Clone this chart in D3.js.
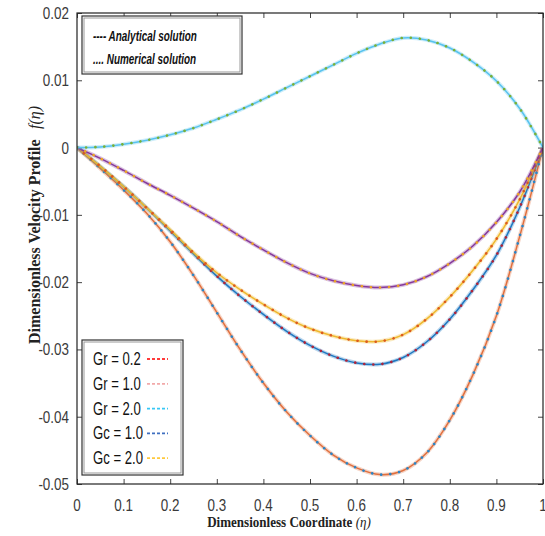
<!DOCTYPE html>
<html>
<head>
<meta charset="utf-8">
<script src="https://cdn.jsdelivr.net/npm/d3@7"></script>
<style>
  body { margin: 0; background: #fff; }
  svg { display: block; }
  .sans { font-family: "Liberation Sans", Arial, sans-serif; }
  .ttl { font-family: "Liberation Serif", "Times New Roman", serif; font-weight: bold; fill: #222; }
</style>
</head>
<body>
<svg id="chart" width="545" height="536"></svg>
<script>
// eta grid
var eta = [0, 0.05, 0.1, 0.15, 0.2, 0.25, 0.3, 0.35, 0.4, 0.45, 0.5, 0.55, 0.6, 0.65, 0.7, 0.75, 0.8, 0.85, 0.9, 0.95, 1];

// velocity profiles f(eta)
var curveCyan   = [0, 0.0001, 0.0005, 0.0011, 0.0019, 0.0029, 0.0042, 0.0056, 0.0072, 0.0089, 0.0106, 0.0123, 0.0140, 0.0154, 0.0163, 0.0160, 0.0148, 0.0127, 0.0099, 0.0058, 0];
var curvePurple = [0, -0.0016, -0.0034, -0.0053, -0.0071, -0.0090, -0.0110, -0.0132, -0.0152, -0.0171, -0.0187, -0.0198, -0.0205, -0.0208, -0.0204, -0.0192, -0.0172, -0.0146, -0.0111, -0.0066, 0];
var curveYellow = [0, -0.0028, -0.0058, -0.0090, -0.0122, -0.0156, -0.0186, -0.0211, -0.0233, -0.0253, -0.0269, -0.0280, -0.0287, -0.0288, -0.0278, -0.0255, -0.0222, -0.0182, -0.0136, -0.0077, 0];
var curveBlue   = [0, -0.0028, -0.0058, -0.0090, -0.0124, -0.0158, -0.0191, -0.0221, -0.0248, -0.0273, -0.0294, -0.0310, -0.0320, -0.0322, -0.0312, -0.0289, -0.0255, -0.0211, -0.0160, -0.0089, 0];
var curveOrange = [0, -0.0031, -0.0063, -0.0098, -0.0140, -0.0190, -0.0245, -0.0300, -0.0350, -0.0393, -0.0428, -0.0457, -0.0476, -0.0486, -0.0480, -0.0454, -0.0405, -0.0337, -0.0250, -0.0132, 0];

var xTicks = [0, 0.1, 0.2, 0.3, 0.4, 0.5, 0.6, 0.7, 0.8, 0.9, 1];
var yTicks = [0.02, 0.01, 0, -0.01, -0.02, -0.03, -0.04, -0.05];

var legendLabels = ["Gr = 0.2", "Gr = 1.0", "Gr = 2.0", "Gc = 1.0", "Gc = 2.0"];
var legendColors = ["#ff3b3b", "#f2a9a9", "#38c8f5", "#3f6fc0", "#ffc93c"];

var solutionLabels = ["---- Analytical solution", ".... Numerical solution"];

var svg = d3.select("#chart");
var plotLeft = 77, plotRight = 543, plotTop = 13, plotBottom = 484;

var x = d3.scaleLinear().domain([0, 1]).range([plotLeft, plotRight]);
var y = d3.scaleLinear().domain([-0.05, 0.02]).range([plotBottom, plotTop]);

// condensed looking text: squeeze a normal font horizontally
function narrowText(parent, px, py, anchor, str, size, sx) {
  return parent.append("text")
    .attr("class", "sans")
    .attr("transform", "translate(" + px + "," + py + ") scale(" + sx + ",1)")
    .attr("text-anchor", anchor)
    .attr("font-size", size)
    .text(str);
}

// ticks all round, pointing inward
svg.append("g").attr("transform", "translate(0," + plotBottom + ")")
  .call(d3.axisBottom(x).tickValues(xTicks).tickSizeInner(-5).tickSizeOuter(0).tickFormat(""));
svg.append("g").attr("transform", "translate(0," + plotTop + ")")
  .call(d3.axisTop(x).tickValues(xTicks).tickSizeInner(-5).tickSizeOuter(0).tickFormat(""));
svg.append("g").attr("transform", "translate(" + plotLeft + ",0)")
  .call(d3.axisLeft(y).tickValues(yTicks).tickSizeInner(-5).tickSizeOuter(0).tickFormat(""));
svg.append("g").attr("transform", "translate(" + plotRight + ",0)")
  .call(d3.axisRight(y).tickValues(yTicks).tickSizeInner(-5).tickSizeOuter(0).tickFormat(""));
svg.selectAll(".domain").remove();
svg.selectAll(".tick line").attr("stroke", "#444");

// tick labels (plain hyphen minus like the original)
function fmt(d) { return String(d); }
xTicks.forEach(function (d) {
  narrowText(svg, x(d), 511, "middle", fmt(d), 16, 0.84).attr("fill", "#3a3a3a");
});
yTicks.forEach(function (d) {
  narrowText(svg, 69, y(d) + 6, "end", fmt(d), 16, 0.84).attr("fill", "#3a3a3a");
});

// axis titles
var xt = svg.append("text").attr("class", "ttl")
  .attr("font-size", 14.5)
  .attr("transform", "translate(289,527) scale(0.9,1)")
  .attr("text-anchor", "middle");
xt.append("tspan").text("Dimensionless Coordinate ");
xt.append("tspan").attr("font-weight", "normal").attr("font-style", "italic").text("(η)");

var yt = svg.append("text").attr("class", "ttl")
  .attr("font-size", 17)
  .attr("transform", "translate(40,225) rotate(-90) scale(0.94,1)")
  .attr("text-anchor", "middle");
yt.append("tspan").text("Dimensionless Velocity Profile");
yt.append("tspan").attr("dx", 11).attr("font-weight", "normal").attr("font-style", "italic").text("f(η)");

// curves
var clip = svg.append("clipPath").attr("id", "plotclip");
clip.append("rect").attr("x", plotLeft).attr("y", plotTop)
  .attr("width", plotRight - plotLeft).attr("height", plotBottom - plotTop);

var line = d3.line()
  .x(function (d, i) { return x(eta[i]); })
  .y(function (d) { return y(d); })
  .curve(d3.curveCatmullRom.alpha(0.5));

var curves = [
  { values: curveOrange, stroke: "#e0703f", dots: "#2a86c8" },
  { values: curveBlue,   stroke: "#1f78c1", dots: "#b0243a" },
  { values: curveYellow, stroke: "#efb82e", dots: "#dc5a1e" },
  { values: curvePurple, stroke: "#86399a", dots: "#eda624" },
  { values: curveCyan,   stroke: "#58c3ee", dots: "#7bb035" }
];

var plot = svg.append("g").attr("clip-path", "url(#plotclip)");

curves.forEach(function (c) {
  plot.append("path")
    .attr("d", line(c.values))
    .attr("fill", "none")
    .attr("stroke", c.stroke)
    .attr("stroke-opacity", 0.3)
    .attr("stroke-width", 4);
  plot.append("path")
    .attr("d", line(c.values))
    .attr("fill", "none")
    .attr("stroke", c.stroke)
    .attr("stroke-width", 1.5);
  plot.append("path")
    .attr("d", line(c.values))
    .attr("fill", "none")
    .attr("stroke", c.dots)
    .attr("stroke-width", 2.6)
    .attr("stroke-linecap", "round")
    .attr("stroke-dasharray", "0.1,9");
});

// frame
svg.append("rect")
  .attr("x", plotLeft).attr("y", plotTop)
  .attr("width", plotRight - plotLeft).attr("height", plotBottom - plotTop)
  .attr("fill", "none").attr("stroke", "#222").attr("stroke-width", 1.2);

function boxFrame(x0, y0, w, h) {
  svg.append("rect").attr("x", x0).attr("y", y0).attr("width", w).attr("height", h)
    .attr("fill", "#fff").attr("stroke", "#333").attr("stroke-width", 1.2);
  svg.append("rect").attr("x", x0 + 2).attr("y", y0 + 2).attr("width", w - 4).attr("height", h - 4)
    .attr("fill", "none").attr("stroke", "#999").attr("stroke-width", 1);
}

// top legend box (solution types)
boxFrame(82, 16, 160, 58);
solutionLabels.forEach(function (d, i) {
  narrowText(svg, 93, 41 + i * 23, "start", d, 14, 0.71)
    .attr("font-weight", "bold")
    .attr("font-style", "italic")
    .attr("fill", "#111");
});

// bottom legend box (parameters)
boxFrame(82, 340, 101, 135);
legendLabels.forEach(function (d, i) {
  var yy = 365 + i * 24.8;
  narrowText(svg, 93, yy, "start", d, 17.5, 0.75).attr("fill", "#111");
  svg.append("line")
    .attr("x1", 147).attr("x2", 168)
    .attr("y1", yy - 6).attr("y2", yy - 6)
    .attr("stroke", legendColors[i])
    .attr("stroke-width", 1.8)
    .attr("stroke-dasharray", "3,2");
});
</script>
</body>
</html>
